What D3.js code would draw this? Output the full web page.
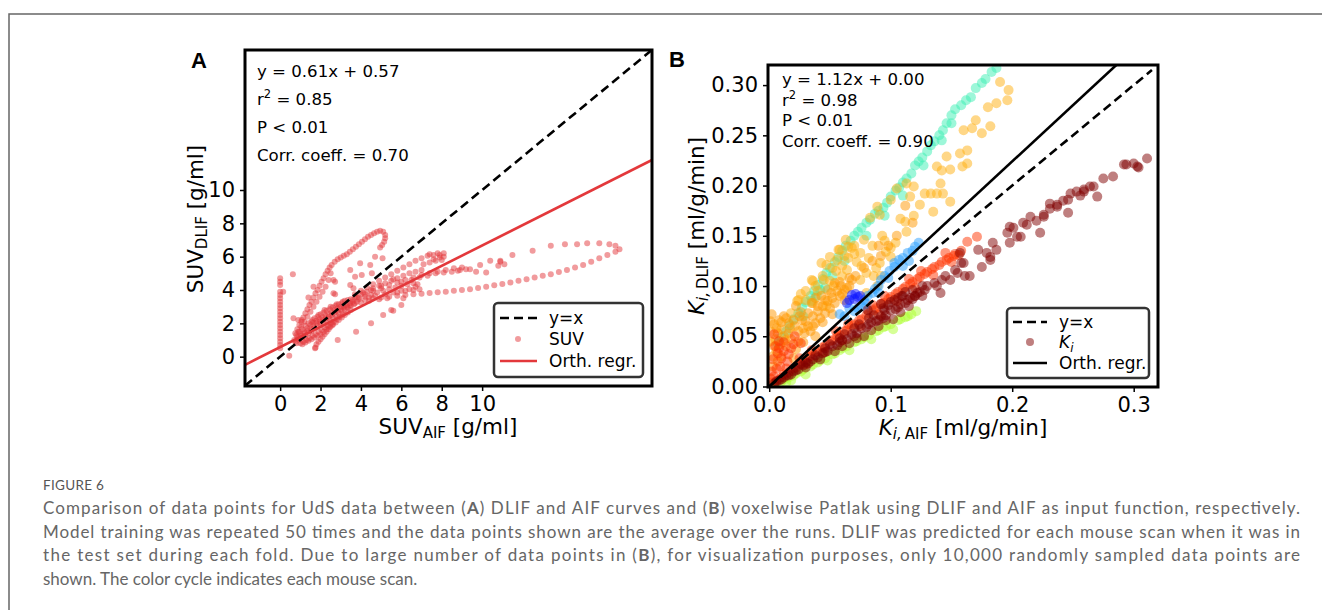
<!DOCTYPE html>
<html>
<head>
<meta charset="utf-8">
<script src="https://cdn.jsdelivr.net/npm/d3@7"></script>
<style>
  body { margin: 0; background: #fff; }
  svg { display: block; }
</style>
</head>
<body>
<svg id="fig" width="1322" height="610"></svg>
<script>
// ---- data: panel A, SUV (AIF vs DLIF) ----
const suvColumn = [[0,4.7],[0,4.5],[0,4.3],[0,3.9],[0,3.7],[0,3.5],[0,3.3],[0,3.1],[0,2.9],[0,2.7],[0,2.5],[0,2.3],[0,2.1],[0,1.9],[0,1.7],[0,1.5],[0,1.3],[0,1.1],[0,0.9],[0,0.7],[0,0.5],[0.15,3.9],[0.45,0.05]];
const suvArc = [[0.75,1.4],[0.85,1.65],[0.95,1.9],[1.05,2.1],[1.15,2.35],[1.25,2.6],[1.35,2.85],[1.45,3.1],[1.55,3.3],[1.65,3.55],[1.75,3.8],[1.85,4.0],[1.95,4.25],[2.05,4.5],[2.15,4.7],[2.25,4.95],[2.35,5.15],[2.45,5.35],[2.55,5.5],[2.7,5.7],[2.85,5.85],[3.0,5.95],[3.15,6.05],[3.3,6.15],[3.45,6.3],[3.6,6.45],[3.75,6.6],[3.9,6.75],[4.05,6.9],[4.2,7.05],[4.35,7.2],[4.5,7.3],[4.65,7.4],[4.8,7.5],[4.95,7.55],[5.1,7.5],[5.2,7.3],[5.2,7.1],[5.15,6.9],[5.05,6.7],[4.95,6.55],
  [0.9,1.5],[1.05,1.8],[1.2,2.1],[1.35,2.4],[1.5,2.7],[1.65,3.0],[1.8,3.3],[1.95,3.6],[2.1,3.9],[2.25,4.2],[2.4,4.6],[2.5,5.0]];
const suvCore = [[0.7,1.0],[0.8,0.8],[0.85,1.2],[0.95,1.0],[1.0,0.8],[1.0,1.35],[1.1,1.15],[1.15,0.9],[1.2,1.5],[1.25,1.25],[1.3,1.0],[1.35,1.7],[1.4,1.4],[1.45,1.1],[1.5,1.9],[1.55,1.55],[1.6,1.25],[1.65,2.05],[1.7,1.7],[1.75,1.35],[1.8,2.15],[1.85,1.85],[1.9,1.5],[1.95,2.25],[2.0,1.95],[2.05,1.6],[2.1,2.35],[2.15,2.05],[2.2,1.75],[2.25,2.45],[2.3,2.15],[2.35,1.85],[2.4,2.55],[2.45,2.25],[2.5,2.0],[2.55,2.65],[2.6,2.35],[2.65,2.1],[2.7,2.8],[2.75,2.5],[2.8,2.25],[2.85,2.9],[2.9,2.6],[2.95,2.4],[3.0,3.0],[3.05,2.75],[3.1,2.55],[3.15,3.05],[3.2,2.85],[3.3,3.1],[3.35,2.95],[3.45,3.2],[3.5,3.05],[3.6,3.3],[3.65,3.15],
  [1.75,0.55],[1.8,0.75],[1.9,0.9],[2.0,1.05],[2.1,1.2],[2.2,1.35],[2.3,1.5],[2.4,1.65],[2.5,1.8],[2.6,1.95],
  [1.6,2.2],[1.9,2.5],[2.2,2.8],[2.5,3.0],[2.8,3.15],[3.1,3.3]];
const suvCoreDense = [[0.75,0.9],[0.9,1.1],[1.05,1.25],[1.2,1.4],[1.35,1.55],[1.5,1.7],[1.65,1.85],[1.8,2.0],[1.95,2.1],[2.1,2.2],[2.25,2.3],[2.4,2.4],[2.55,2.5],[2.7,2.65],[2.85,2.75],[3.0,2.85],[3.15,2.95],[3.3,3.0],[3.45,3.1],
  [0.8,1.3],[0.95,1.5],[1.1,1.65],[1.25,1.85],[1.4,2.0],[1.55,2.1],[1.7,2.3],[1.85,2.4],[2.0,2.55],[2.15,2.65],[2.3,2.75],[2.45,2.85],[2.6,2.95],[2.75,3.05],[2.9,3.15],[3.05,3.2],[3.2,3.35],[3.35,3.4],[3.5,3.45],
  [1.1,0.75],[1.25,0.85],[1.4,0.95],[1.55,1.05],[1.7,1.15],[1.85,1.25],[2.0,1.35],[2.15,1.5],[2.3,1.65],[2.45,1.8],[2.6,1.9],[2.75,2.05],[2.9,2.2],[3.05,2.35],[3.2,2.5],[3.35,2.65],[3.5,2.8]];
const suvFan = [[3.7,3.75],[4.0,3.95],[4.3,4.15],[4.6,4.35],[4.9,4.55],[5.2,4.75],[5.5,4.95],[5.8,5.15],[6.1,5.35],[6.4,5.55],[6.7,5.75],[7.0,5.9],[7.3,6.05],[7.6,6.1],[7.9,6.1],[8.1,6.0],[8.0,5.8],[7.7,5.75],[7.4,5.65],[7.1,5.55],
  [3.8,3.55],[4.2,3.75],[4.6,3.95],[5.0,4.1],[5.4,4.3],[5.8,4.45],[6.2,4.6],[6.6,4.75],[7.0,4.9],[7.4,5.0],[7.8,5.1],[8.2,5.2],[8.6,5.3],[9.0,5.35],[9.2,5.25],[8.8,5.15],
  [3.9,3.45],[4.2,3.6],[4.5,3.7],[4.8,3.85],[5.1,3.95],[5.4,4.05],[5.7,4.15],[6.0,4.25],[6.3,4.35],[6.6,4.4],[6.7,4.2],[6.6,4.0],[6.2,3.95],[5.8,3.85],
  [3.8,3.3],[4.2,3.4],[4.6,3.5],[5.0,3.55],[5.4,3.6],[5.8,3.65],[6.2,3.7]];
const suvFanDense = [[3.7,3.6],[4.0,3.75],[4.3,3.9],[4.6,4.1],[4.9,4.25],[5.2,4.4],[5.5,4.55],[5.8,4.7],[6.1,4.85],[6.4,5.0],[6.7,5.1],[7.0,5.2],[3.6,3.4],[3.9,3.55],[4.4,3.55],[4.7,3.65],[5.2,3.75],[5.6,3.85],[6.0,3.95],[6.4,4.05],[3.7,3.2],[4.0,3.25],[4.4,3.35],[4.9,3.45],[5.3,3.5],[4.1,3.85],[4.5,4.0],[5.0,4.25],[5.6,4.65],[6.0,4.5],[6.5,4.6],[6.9,4.75],[7.3,4.85],[7.7,5.0],[8.1,5.05],[8.5,5.1],[6.8,4.35],[6.9,4.05],[7.6,5.85],[7.9,5.95],[8.1,6.2],[7.8,6.2],[7.4,6.15]];
const suvLoop = [[6.6,3.75],[7.0,3.78],[7.4,3.82],[7.8,3.86],[8.2,3.9],[8.6,3.95],[9.0,4.0],[9.4,4.05],[9.8,4.12],[10.2,4.2],[10.6,4.28],[11.0,4.36],[11.4,4.45],[11.8,4.55],[12.2,4.65],[12.6,4.75],[13.0,4.85],[13.4,4.95],[13.8,5.08],[14.2,5.2],[14.6,5.35],[15.0,5.5],[15.4,5.7],[15.8,5.9],[16.2,6.1],[16.6,6.3],[16.8,6.45],[16.6,6.65],[16.3,6.75],[15.8,6.8],[15.2,6.8],[14.7,6.75],[14.1,6.75],[13.4,6.65],[12.5,6.35],[11.5,6.1],[10.9,5.75],
  [8.9,5.2],[9.4,5.25],[9.9,5.5],[10.4,5.75],[10.9,5.7],[11.1,5.55],[10.8,5.45],[10.2,5.05],[9.7,5.1]];
const suvScatter = [[0.63,4.95],[0.66,2.3],[0.9,2.2],[1.07,2.2],[1.4,3.55],[1.65,4.2],[1.73,0.5],[2.64,3.8],[2.64,4.6],[2.72,4.5],[2.72,3.75],[2.85,1.0],[3.47,4.3],[3.47,5.2],[3.63,4.1],[3.71,4.8],[3.96,5.6],[4.04,4.9],[4.46,5.5],[4.54,5.0],[4.7,6.0],[5.07,5.9],[3.76,1.5],[4.5,2.0],[5.1,2.5],[5.5,2.8],[6.0,3.1],[6.1,3.5],[5.6,2.75]];
const fitA = { slope: 0.61, intercept: 0.57 };
const statsA = ["y = 0.61x + 0.57", "r2 = 0.85", "P < 0.01", "Corr. coeff. = 0.70"];
const ticksA = [0, 2, 4, 6, 8, 10];

// ---- data: panel B, Ki per mouse scan ----
const kiBlue = [[.066,.086],[.068,.091],[.071,.092],[.073,.089],[.070,.087],[.064,.083],[.075,.090]];
const kiDodger = [[.123,.143],[.120,.139],[.118,.135],[.114,.133],[.110,.128],[.107,.126],[.103,.123],[.103,.119],[.099,.115],[.095,.110],[.092,.106],[.090,.100],[.087,.097],[.085,.093],[.081,.090],[.078,.086],[.076,.080],[.073,.078],[.070,.075],[.084,.076],[.090,.093],[.080,.082],[.115,.125],[.110,.120],[.098,.108],[.062,.070],[.066,.078],[.058,.072]];
const kiAqua = [[.187,.317],[.183,.313],[.178,.306],[.175,.302],[.170,.297],[.166,.288],[.162,.285],[.158,.280],[.153,.276],[.150,.270],[.146,.262],[.143,.255],[.140,.250],[.136,.244],[.133,.240],[.130,.234],[.126,.228],[.123,.224],[.120,.220],[.117,.212],[.113,.207],[.110,.203],[.107,.198],[.104,.195],[.100,.189],[.097,.183],[.094,.178],[.090,.175],[.087,.172],[.083,.166],[.080,.163],[.076,.158],[.073,.154],[.070,.150],[.067,.145],[.063,.140],[.060,.135],[.057,.129],[.054,.124],[.050,.118],[.047,.113],[.044,.107],[.040,.101],[.037,.095],[.034,.090],[.030,.084],[.027,.079],[.024,.073],[.020,.067],[.017,.061],[.014,.055],[.010,.049],[.007,.043],
  [.127,.220],[.150,.262],[.142,.245],[.110,.190],[.095,.170],[.080,.150],[.062,.125],[.046,.098],[.052,.110],[.035,.085],[.028,.070],[.042,.096],[.039,.090]];
const kiLime = [[.006,.003],[.010,.005],[.016,.009],[.022,.013],[.028,.017],[.034,.020],[.040,.024],[.046,.028],[.052,.032],[.058,.036],[.064,.040],[.070,.044],[.076,.047],[.082,.051],[.088,.055],[.094,.059],[.100,.062],[.106,.066],[.112,.069],[.117,.072],[.121,.075],[.048,.026],[.066,.036],[.084,.047],[.102,.057],[.014,.004],[.030,.012],
  [.012,.007],[.020,.011],[.026,.015],[.036,.022],[.042,.026],[.054,.033],[.060,.038],[.072,.045],[.078,.049],[.090,.056],[.096,.060],[.108,.067],[.114,.070],[.004,.001],[.018,.006]];
const kiGold = [[.190,.303],[.197,.295],[.196,.285],[.187,.282],[.180,.278],[.170,.265],[.182,.259],[.175,.252],[.167,.257],[.160,.255],[.163,.235],[.157,.232],[.163,.222],[.159,.219],[.146,.229],[.149,.216],[.142,.215],[.138,.219],[.141,.202],[.143,.192],[.138,.192],[.133,.192],[.128,.192],[.149,.184],[.124,.181],[.135,.174],[.113,.202],[.105,.197],[.119,.199],[.116,.189],[.100,.186],[.112,.164],[.113,.154],[.104,.143],[.100,.138],[.091,.123],[.100,.129],[.089,.179],[.091,.171],[.083,.168],[.078,.146],[.075,.133],[.063,.146],[.068,.138],[.058,.136],[.056,.126],[.047,.121],[.045,.106],[.036,.105],[.023,.085],[.030,.086],[.036,.083],[.047,.080],[.053,.100],[.064,.116],[.080,.113],[.086,.110],[.089,.100],[.080,.093],[.075,.106],[.018,.073],[.024,.086],[.035,.106],[.043,.123],[.050,.129],[.057,.136],[.065,.139],[.108,.167],[.119,.170],[.093,.150],[.096,.134],[.072,.124],[.060,.110],
  [.040,.095],[.050,.105],[.055,.115],[.060,.120],[.065,.128],[.070,.132],[.076,.120],[.082,.128],[.088,.118],[.092,.110],[.085,.140],[.095,.145],[.070,.140],[.062,.130],[.052,.118],[.044,.110],[.038,.100],[.030,.095],[.026,.092]];
const kiOrange = [[.004,.040],[.005,.047],[.007,.053],[.010,.057],[.004,.062],[.008,.066],[.012,.050],[.016,.053],[.016,.063],[.021,.060],[.018,.047],[.027,.066],[.029,.053],[.032,.060],[.032,.073],[.038,.063],[.040,.080],[.046,.073],[.046,.086],[.035,.083],[.043,.090],[.051,.093],[.054,.083],[.054,.103],[.062,.086],[.062,.096],[.068,.106],[.059,.100],[.024,.045],[.034,.055],[.042,.068],[.050,.078],[.058,.090],[.066,.100],[.014,.040],[.022,.037],[.028,.044],[.038,.050],[.010,.030],[.020,.028],[.003,.020],[.007,.025],[.002,.072],[.012,.070],[.071,.110],[.078,.118],[.085,.125],[.092,.130],[.098,.140],[.105,.150],[.112,.180],[.118,.163],[.090,.140],
  [.003,.030],[.006,.035],[.009,.042],[.013,.046],[.017,.058],[.020,.066],[.024,.055],[.025,.070],[.030,.065],[.036,.070],[.040,.075],[.044,.080],[.048,.085],[.052,.088],[.056,.095],[.060,.092],[.064,.098],[.028,.058],[.036,.060],[.044,.064],[.052,.072],[.006,.058],[.010,.064],[.014,.068],[.001,.045],[.001,.055],[.001,.065],[.022,.080],[.026,.074],[.038,.088],[.048,.096],[.058,.104],[.066,.108]];
const kiRed = [[.002,.004],[.006,.006],[.010,.009],[.016,.014],[.022,.019],[.028,.025],[.034,.030],[.040,.035],[.046,.040],[.052,.046],[.058,.051],[.064,.056],[.070,.062],[.076,.067],[.082,.073],[.088,.078],[.094,.083],[.100,.089],[.106,.094],[.112,.099],[.118,.104],[.124,.109],[.130,.114],[.136,.119],[.142,.124],[.148,.128],[.153,.132],[.158,.135],[.030,.022],[.045,.034],[.060,.046],[.075,.060],[.090,.072],[.105,.085],[.120,.098],[.135,.111],[.150,.124],[.163,.144],[.171,.149],[.002,.015],[.003,.027],[.005,.040],[.007,.033],[.009,.020],[.012,.035],[.004,.052],[.008,.045],[.015,.025],[.021,.050],[.026,.043],[.018,.038],[.014,.018],
  [.012,.012],[.020,.018],[.026,.023],[.032,.029],[.038,.034],[.044,.039],[.050,.045],[.056,.050],[.062,.055],[.068,.061],[.074,.066],[.080,.071],[.086,.076],[.092,.082],[.098,.087],[.104,.092],[.110,.097],[.116,.102],[.122,.107],[.128,.112],[.134,.117],[.140,.121],[.146,.126],[.152,.130],[.025,.028],[.035,.036],[.055,.055],[.065,.062],[.085,.081],[.095,.090],[.115,.107],[.125,.115],[.145,.133],[.156,.131],[.001,.008],[.004,.010],[.006,.018],[.010,.028],[.008,.038],[.012,.044],[.016,.032],[.020,.042]];
const kiMaroon = [[.004,.003],[.008,.006],[.012,.009],[.016,.011],[.020,.015],[.024,.017],[.028,.021],[.032,.023],[.036,.027],[.040,.029],[.044,.033],[.048,.035],[.052,.040],[.056,.041],[.060,.046],[.064,.047],[.068,.052],[.072,.053],[.076,.058],[.080,.059],[.084,.064],[.088,.065],[.092,.070],[.096,.071],[.100,.076],[.104,.077],[.108,.082],[.112,.083],[.116,.088],[.120,.090],[.124,.094],[.018,.012],[.030,.019],[.042,.027],[.054,.035],[.066,.043],[.078,.050],[.090,.060],[.102,.067],[.026,.022],[.038,.031],[.050,.042],[.062,.052],[.074,.062],[.086,.071],[.098,.081],[.110,.090],
  [.006,.005],[.010,.007],[.014,.011],[.022,.016],[.030,.024],[.034,.025],[.046,.034],[.058,.044],[.070,.050],[.082,.062],[.094,.068],[.106,.079],[.118,.087],[.126,.090],[.046,.038],[.058,.048],[.070,.058],[.082,.068],[.094,.078],[.106,.088],[.118,.096],[.060,.040],[.072,.048],[.084,.056],[.096,.066],[.108,.074],[.115,.080],[.092,.082],[.100,.084],[.112,.094],[.126,.100],
  [.081,.076],[.090,.066],[.095,.076],[.103,.086],[.109,.090],[.114,.086],[.120,.090],[.128,.096],[.136,.103],[.142,.106],[.145,.110],[.153,.116],[.158,.123],[.161,.110],[.122,.093],[.130,.100],[.138,.100],[.141,.093],[.149,.106],[.155,.113],[.160,.123],[.165,.110],[.175,.119],[.179,.133],[.182,.126],[.187,.136],[.157,.133],[.172,.136],[.184,.143],[.182,.129],
  [.198,.143],[.204,.149],[.201,.158],[.212,.161],[.207,.149],[.196,.153],[.198,.159],[.215,.169],[.209,.163],[.223,.153],[.226,.169],[.226,.171],[.231,.177],[.231,.182],[.237,.181],[.237,.179],[.246,.173],[.246,.186],[.248,.192],[.253,.194],[.259,.196],[.259,.194],[.264,.199],[.267,.199],[.270,.189],[.275,.207],[.283,.209],[.292,.221],[.294,.221],[.300,.222],[.303,.219],[.304,.218],[.311,.227],[.220,.165],[.242,.185],[.256,.190]];
const scanColors = ["#0a14ff", "#2aa0ff", "#3cf0b4", "#adff2f", "#ffb010", "#ff9800", "#ff3300", "#800000"];
const fitB = { slope: 1.12, intercept: 0.0 };
const statsB = ["y = 1.12x + 0.00", "r2 = 0.98", "P < 0.01", "Corr. coeff. = 0.90"];
const ticksBx = [0.0, 0.1, 0.2, 0.3];
const ticksBy = [0.00, 0.05, 0.10, 0.15, 0.20, 0.25, 0.30];

const captionLines = [
  "Comparison of data points for UdS data between (A) DLIF and AIF curves and (B) voxelwise Patlak using DLIF and AIF as input function, respectively.",
  "Model training was repeated 50 times and the data points shown are the average over the runs. DLIF was predicted for each mouse scan when it was in",
  "the test set during each fold. Due to large number of data points in (B), for visualization purposes, only 10,000 randomly sampled data points are",
  "shown. The color cycle indicates each mouse scan."
];

const svg = d3.select("#fig");
const font = "DejaVu Sans";
const red = "#e3383b";

// outer figure frame (top + left)
svg.append("path").attr("d", "M9,610V14H1322").attr("fill", "none").attr("stroke", "#666").attr("stroke-width", 1.5);

function styleAxis(g) {
  g.attr("font-size", 21).attr("font-family", font);
  g.select(".domain").remove();
  g.selectAll(".tick line").attr("stroke", "#000").attr("stroke-width", 1.5);
  g.selectAll(".tick text").attr("fill", "#000");
}

function statsText(x, ys, lines) {
  const t = svg.append("g").attr("font-family", font).attr("font-size", 16.6).attr("fill", "#000");
  lines.forEach((s, i) => {
    const txt = t.append("text").attr("x", x).attr("y", ys[i]);
    if (s.startsWith("r2")) {
      txt.append("tspan").text("r");
      txt.append("tspan").attr("font-size", 11.5).attr("dy", -7).text("2");
      txt.append("tspan").attr("dy", 7).text(s.slice(2));
    } else {
      txt.text(s);
    }
  });
}

// ================= panel A =================
const xA = d3.scaleLinear().domain([-1.74, 18.41]).range([245, 652]);
const yA = d3.scaleLinear().domain([-1.76, 18.4]).range([386, 50]);

svg.append("clipPath").attr("id", "clipA").append("rect")
  .attr("x", 245).attr("y", 50).attr("width", 407).attr("height", 336);

const gA = svg.append("g").attr("clip-path", "url(#clipA)");
const suvAll = [].concat(suvColumn, suvArc, suvCore, suvCoreDense, suvFan, suvFanDense, suvLoop, suvScatter);
gA.selectAll("circle").data(suvAll).enter().append("circle")
  .attr("cx", d => xA(d[0])).attr("cy", d => yA(d[1])).attr("r", 3)
  .attr("fill", red).attr("fill-opacity", 0.5);

const dA = xA.domain();
gA.append("line")
  .attr("x1", xA(dA[0])).attr("y1", yA(dA[0]))
  .attr("x2", xA(dA[1])).attr("y2", yA(dA[1]))
  .attr("stroke", "#000").attr("stroke-width", 2.6).attr("stroke-dasharray", "9,5");
gA.append("line")
  .attr("x1", xA(dA[0])).attr("y1", yA(fitA.slope * dA[0] + fitA.intercept))
  .attr("x2", xA(dA[1])).attr("y2", yA(fitA.slope * dA[1] + fitA.intercept))
  .attr("stroke", red).attr("stroke-width", 2.6);

svg.append("g").attr("transform", "translate(0,386)")
  .call(d3.axisBottom(xA).tickValues(ticksA).tickSize(5).tickPadding(5)).call(styleAxis);
svg.append("g").attr("transform", "translate(245,0)")
  .call(d3.axisLeft(yA).tickValues(ticksA).tickSize(5).tickPadding(5)).call(styleAxis);

svg.append("rect").attr("x", 245).attr("y", 50).attr("width", 407).attr("height", 336)
  .attr("fill", "none").attr("stroke", "#000").attr("stroke-width", 3);

statsText(257, [77, 105, 133, 161], statsA);

// axis labels A
const xlabA = svg.append("text").attr("x", 448).attr("y", 434).attr("text-anchor", "middle")
  .attr("font-family", font).attr("font-size", 21.5);
xlabA.append("tspan").text("SUV");
xlabA.append("tspan").attr("font-size", 15).attr("dy", 4).text("AIF");
xlabA.append("tspan").attr("dy", -4).text(" [g/ml]");

const ylabA = svg.append("text").attr("transform", "translate(203,219) rotate(-90)")
  .attr("text-anchor", "middle").attr("font-family", font).attr("font-size", 21.5);
ylabA.append("tspan").text("SUV");
ylabA.append("tspan").attr("font-size", 15).attr("dy", 4).text("DLIF");
ylabA.append("tspan").attr("dy", -4).text(" [g/ml]");

svg.append("text").attr("x", 191).attr("y", 68).attr("font-family", "Liberation Sans")
  .attr("font-weight", "bold").attr("font-size", 22).text("A");

// legend A
const lgA = svg.append("g").attr("font-family", font).attr("font-size", 17);
lgA.append("rect").attr("x", 494).attr("y", 303).attr("width", 149).attr("height", 74).attr("rx", 4)
  .attr("fill", "#fff").attr("fill-opacity", 0.85).attr("stroke", "#333").attr("stroke-width", 2.5);
lgA.append("line").attr("x1", 500).attr("x2", 537).attr("y1", 318).attr("y2", 318)
  .attr("stroke", "#000").attr("stroke-width", 2.6).attr("stroke-dasharray", "9,5");
lgA.append("circle").attr("cx", 518).attr("cy", 339).attr("r", 3).attr("fill", red).attr("fill-opacity", 0.5);
lgA.append("line").attr("x1", 500).attr("x2", 537).attr("y1", 361).attr("y2", 361)
  .attr("stroke", red).attr("stroke-width", 2.6);
[["y=x", 318], ["SUV", 339], ["Orth. regr.", 361]].forEach(d => {
  lgA.append("text").attr("x", 549).attr("y", d[1]).attr("dy", "0.35em").text(d[0]);
});

// ================= panel B =================
const xB = d3.scaleLinear().domain([-0.001, 0.32]).range([768, 1158]);
const yB = d3.scaleLinear().domain([-0.0005, 0.32]).range([387, 65]);

svg.append("clipPath").attr("id", "clipB").append("rect")
  .attr("x", 768).attr("y", 65).attr("width", 390).attr("height", 322);
const gB = svg.append("g").attr("clip-path", "url(#clipB)");

// drawing order of the scans (index into scanColors)
const scans = [kiLime, kiAqua, kiGold, kiOrange, kiDodger, kiBlue, kiRed, kiMaroon];
const scanIdx = [3, 2, 4, 5, 1, 0, 6, 7];
scans.forEach((pts, i) => {
  gB.append("g").selectAll("circle").data(pts).enter().append("circle")
    .attr("cx", d => xB(d[0])).attr("cy", d => yB(d[1])).attr("r", 5)
    .attr("fill", scanColors[scanIdx[i]]).attr("fill-opacity", 0.5);
});

gB.append("line")
  .attr("x1", xB(0)).attr("y1", yB(0)).attr("x2", xB(0.315)).attr("y2", yB(0.315))
  .attr("stroke", "#000").attr("stroke-width", 2.6).attr("stroke-dasharray", "9,5");
gB.append("line")
  .attr("x1", xB(0)).attr("y1", yB(fitB.intercept))
  .attr("x2", xB(0.32)).attr("y2", yB(fitB.slope * 0.32 + fitB.intercept))
  .attr("stroke", "#000").attr("stroke-width", 2.6);

svg.append("g").attr("transform", "translate(0,387)")
  .call(d3.axisBottom(xB).tickValues(ticksBx).tickFormat(d3.format(".1f")).tickSize(5).tickPadding(5)).call(styleAxis);
svg.append("g").attr("transform", "translate(768,0)")
  .call(d3.axisLeft(yB).tickValues(ticksBy).tickFormat(d3.format(".2f")).tickSize(5).tickPadding(5)).call(styleAxis);

svg.append("rect").attr("x", 768).attr("y", 65).attr("width", 390).attr("height", 322)
  .attr("fill", "none").attr("stroke", "#000").attr("stroke-width", 3);

statsText(782, [85, 105.5, 126, 146.5], statsB);

const xlabB = svg.append("text").attr("x", 963).attr("y", 435).attr("text-anchor", "middle")
  .attr("font-family", font).attr("font-size", 21.5);
xlabB.append("tspan").attr("font-style", "italic").text("K");
xlabB.append("tspan").attr("font-size", 15).attr("dy", 4).attr("font-style", "italic").text("i,");
xlabB.append("tspan").attr("font-size", 15).text("\u2009AIF");
xlabB.append("tspan").attr("dy", -4).text(" [ml/g/min]");

const ylabB = svg.append("text").attr("transform", "translate(704,226) rotate(-90)")
  .attr("text-anchor", "middle").attr("font-family", font).attr("font-size", 21.5);
ylabB.append("tspan").attr("font-style", "italic").text("K");
ylabB.append("tspan").attr("font-size", 15).attr("dy", 4).attr("font-style", "italic").text("i,");
ylabB.append("tspan").attr("font-size", 15).text("\u2009DLIF");
ylabB.append("tspan").attr("dy", -4).text(" [ml/g/min]");

svg.append("text").attr("x", 669).attr("y", 67).attr("font-family", "Liberation Sans")
  .attr("font-weight", "bold").attr("font-size", 22).text("B");

// legend B
const lgB = svg.append("g").attr("font-family", font).attr("font-size", 17);
lgB.append("rect").attr("x", 1007).attr("y", 308).attr("width", 142).attr("height", 70).attr("rx", 4)
  .attr("fill", "#fff").attr("fill-opacity", 0.85).attr("stroke", "#333").attr("stroke-width", 2.5);
lgB.append("line").attr("x1", 1013).attr("x2", 1047).attr("y1", 322).attr("y2", 322)
  .attr("stroke", "#000").attr("stroke-width", 2.6).attr("stroke-dasharray", "9,5");
lgB.append("circle").attr("cx", 1030).attr("cy", 342).attr("r", 4).attr("fill", scanColors[7]).attr("fill-opacity", 0.5);
lgB.append("line").attr("x1", 1013).attr("x2", 1047).attr("y1", 363).attr("y2", 363)
  .attr("stroke", "#000").attr("stroke-width", 2.6);
lgB.append("text").attr("x", 1059).attr("y", 322).attr("dy", "0.35em").text("y=x");
const kiLab = lgB.append("text").attr("x", 1059).attr("y", 342).attr("dy", "0.35em");
kiLab.append("tspan").attr("font-style", "italic").text("K");
kiLab.append("tspan").attr("font-style", "italic").attr("font-size", 12).attr("dy", 4).text("i");
lgB.append("text").attr("x", 1059).attr("y", 363).attr("dy", "0.35em").text("Orth. regr.");

// ================= caption =================
const cap = svg.append("g").attr("font-family", "Lato").attr("fill", "#666");
cap.append("text").attr("x", 43).attr("y", 490).attr("font-size", 13.5).attr("fill", "#555")
  .attr("letter-spacing", 0.3).text("FIGURE 6");
captionLines.forEach((line, i) => {
  const t = cap.append("text").attr("x", 43).attr("y", 514 + i * 23.7).attr("font-size", 17);
  // bold the panel letters (A) / (B)
  const parts = line.split(/(\((?:A|B)\))/);
  parts.forEach(p => {
    const m = p.match(/^\((A|B)\)$/);
    if (m) {
      t.append("tspan").text("(");
      t.append("tspan").attr("font-weight", "bold").text(m[1]);
      t.append("tspan").text(")");
    } else if (p) {
      t.append("tspan").text(p);
    }
  });
  if (i < captionLines.length - 1) {
    t.attr("textLength", 1257).attr("lengthAdjust", "spacing");
  }
});
</script>
</body>
</html>
